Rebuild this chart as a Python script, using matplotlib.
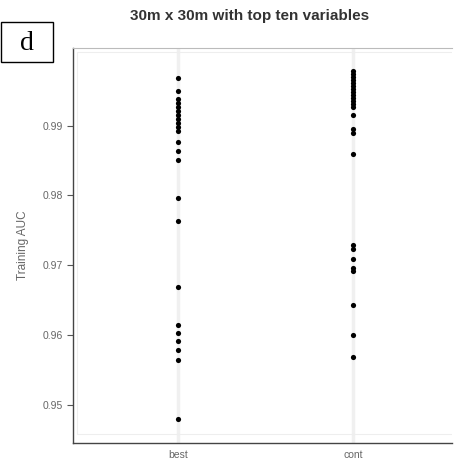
import matplotlib
matplotlib.use("Agg")
import matplotlib.pyplot as plt
from matplotlib.patches import Rectangle

categories = ["best", "cont"]
best_auc = [0.99686, 0.9950, 0.99386, 0.99329, 0.99271, 0.99214, 0.99157, 0.9910,
            0.99043, 0.98986, 0.98929, 0.98771, 0.98643, 0.98514, 0.97957, 0.97629,
            0.96686, 0.96143, 0.96029, 0.95914, 0.95786, 0.95643, 0.9480]
cont_auc = [0.99786, 0.99743, 0.99700, 0.99657, 0.99614, 0.99571, 0.99529, 0.99486,
            0.99443, 0.99400, 0.99357, 0.99314, 0.99271, 0.99157, 0.98957, 0.9890,
            0.98586, 0.97286, 0.97229, 0.97086, 0.96957, 0.96914, 0.96429, 0.9600,
            0.95686]
yticks = [0.95, 0.96, 0.97, 0.98, 0.99]
ytick_labels = ["0.95", "0.96", "0.97", "0.98", "0.99"]
title = "30m x 30m with top ten variables"
ylabel = "Training AUC"
panel_letter = "d"

W, H = 454, 466
fig = plt.figure(figsize=(W / 100, H / 100), dpi=100)
ax = fig.add_axes([73 / W, 1 - 443 / H, 379 / W, 395 / H])

for i, vals in enumerate([best_auc, cont_auc]):
    ax.axvline(i, color="#f0f0f0", lw=2.5, zorder=0)
    ax.scatter([i] * len(vals), vals, s=14, color="black", zorder=3, linewidths=0)

ax.set_xlim(-0.6, 1.566)
ax.set_ylim(0.94457, 1.0011)
ax.set_yticks(yticks)
ax.set_yticklabels(ytick_labels)
ax.set_xticks([0, 1])
ax.set_xticklabels(categories)
ax.tick_params(axis="y", length=4, width=0.8, color="#555555", labelsize=7.5,
               labelcolor="#666666", pad=3)
ax.tick_params(axis="x", length=0, labelsize=7.5, labelcolor="#666666", pad=5)

for side in ["left", "bottom"]:
    ax.spines[side].set_color("#444444")
    ax.spines[side].set_linewidth(1.0)
ax.spines["top"].set_color("#bbbbbb")
ax.spines["top"].set_linewidth(0.8)
ax.spines["right"].set_visible(False)

ax.add_patch(Rectangle((4 / 379, 9 / 395), 1.2, 1 - 13 / 395, transform=ax.transAxes,
                       fill=False, edgecolor="#eeeeee", lw=0.8, zorder=1, clip_on=True))

ax.set_ylabel(ylabel, fontsize=8.5, color="#666666", labelpad=10,
              family=["Liberation Sans", "DejaVu Sans"])
for lab in ax.get_yticklabels() + ax.get_xticklabels():
    lab.set_family(["Liberation Sans", "DejaVu Sans"])

fig.text(250 / W, 1 - 16 / H, title, ha="center", va="center", fontsize=11,
         fontweight="bold", color="#333333", family=["Liberation Sans", "DejaVu Sans"])

fig.patches.append(Rectangle((1 / W, 1 - 62 / H), 52 / W, 40 / H, transform=fig.transFigure,
                             fill=False, edgecolor="black", lw=1.0))
fig.text(27 / W, 1 - 43 / H, panel_letter, ha="center", va="center", fontsize=20,
         family=["Liberation Serif", "DejaVu Serif"], color="black")

fig.savefig("out.png", dpi=100)
